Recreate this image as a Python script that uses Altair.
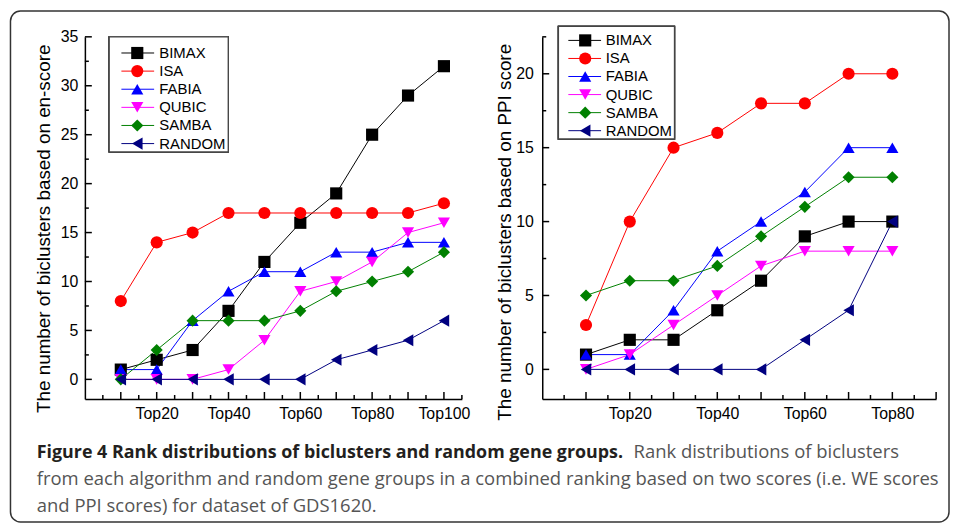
import altair as alt
import pandas as pd

# ---------------- data ----------------
series_names = ["BIMAX", "ISA", "FABIA", "QUBIC", "SAMBA", "RANDOM"]
series_colors = ["#000000", "#ff0000", "#0000ff", "#ff00ff", "#008000", "#000080"]
series_shapes = ["square", "circle", "triangle-up", "triangle-down", "diamond", "triangle-left"]

left_x = [10, 20, 30, 40, 50, 60, 70, 80, 90, 100]
left_bimax = [1, 2, 3, 7, 12, 16, 19, 25, 29, 32]
left_isa = [8, 14, 15, 17, 17, 17, 17, 17, 17, 18]
left_fabia = [1, 1, 6, 9, 11, 11, 13, 13, 14, 14]
left_qubic = [0, 0, 0, 1, 4, 9, 10, 12, 15, 16]
left_samba = [0, 3, 6, 6, 6, 7, 9, 10, 11, 13]
left_random = [0, 0, 0, 0, 0, 0, 2, 3, 4, 6]

right_x = [10, 20, 30, 40, 50, 60, 70, 80]
right_bimax = [1, 2, 2, 4, 6, 9, 10, 10]
right_isa = [3, 10, 15, 16, 18, 18, 20, 20]
right_fabia = [1, 1, 4, 8, 10, 12, 15, 15]
right_qubic = [0, 1, 3, 5, 7, 8, 8, 8]
right_samba = [5, 6, 6, 7, 9, 11, 13, 13]
right_random = [0, 0, 0, 0, 0, 2, 4, 10]

left_xlabels = [20, 40, 60, 80, 100]
right_xlabels = [20, 40, 60, 80]
left_xmajor = [10, 20, 30, 40, 50, 60, 70, 80, 90, 100]
left_xminor = [5, 15, 25, 35, 45, 55, 65, 75, 85, 95, 105]
right_xmajor = [10, 20, 30, 40, 50, 60, 70, 80, 90]
right_xminor = [5, 15, 25, 35, 45, 55, 65, 75, 85]
left_ymajor = [0, 5, 10, 15, 20, 25, 30, 35]
left_yminor = [2.5, 7.5, 12.5, 17.5, 22.5, 27.5, 32.5]
right_ymajor = [0, 5, 10, 15, 20]
right_yminor = [2.5, 7.5, 12.5, 17.5, 22.5]

left_title = "The number of biclusters based on en-score"
right_title = "The number of biclusters based on PPI score"
caption_bold = "Figure 4 Rank distributions of biclusters and random gene groups."
caption_1 = "Rank distributions of biclusters"
caption_2 = "from each algorithm and random gene groups in a combined ranking based on two scores (i.e. WE scores"
caption_3 = "and PPI scores) for dataset of GDS1620."

AXFONT = "Liberation Sans"


def long_table(xs, cols):
    rows = []
    for name, vals in zip(series_names, cols):
        for x, v in zip(xs, vals):
            rows.append({"x": x, "value": v, "series": name})
    return pd.DataFrame(rows)


color_enc = alt.Color("series:N", scale=alt.Scale(domain=series_names, range=series_colors), legend=None)
shape_enc = alt.Shape("series:N", scale=alt.Scale(domain=series_names, range=series_shapes), legend=None)


def panel(df, W, H, xdom, ydom, xlabels, xmajor, xminor, ymajor, yminor, ytitle,
          title_x, title_y, ylabel_pad, leg, extras):
    xenc = alt.X("x:Q", scale=alt.Scale(domain=xdom, nice=False, zero=False),
                 axis=alt.Axis(values=xlabels, labelExpr="'Top' + datum.value", ticks=False, tickSize=0,
                               grid=False, title=None, domainColor="black", domainWidth=1.5,
                               labelFontSize=16, labelColor="black", labelFont=AXFONT, labelPadding=7,
                               labelFlush=False, labelOverlap=False))
    yenc = alt.Y("value:Q", scale=alt.Scale(domain=ydom, nice=False, zero=False),
                 axis=alt.Axis(values=ymajor, ticks=False, tickSize=0, grid=False, title=ytitle,
                               titleX=title_x, titleY=title_y, titleAlign="center", titleBaseline="middle",
                               titleFontSize=19, titleFontWeight="normal", titleFont=AXFONT, titleColor="black",
                               domainColor="black", domainWidth=1.5, labelFontSize=16, labelColor="black",
                               labelFont=AXFONT, labelPadding=ylabel_pad, labelFlush=False, labelOverlap=False))
    base = alt.Chart(df)
    lines = base.mark_line(strokeWidth=1).encode(x=xenc, y=yenc, color=color_enc, detail="series:N")
    points = base.mark_point(filled=True, size=150, opacity=1).encode(x=xenc, y=yenc, color=color_enc, shape=shape_enc)

    def xt(vals, L):
        return alt.Chart(pd.DataFrame({"x": vals})).mark_rule(color="black", strokeWidth=1.5).encode(
            x=xenc, y=alt.value(H), y2=alt.value(H - L))

    def yt(vals, L):
        return alt.Chart(pd.DataFrame({"value": vals})).mark_rule(color="black", strokeWidth=1.5).encode(
            y=yenc, x=alt.value(0), x2=alt.value(L))

    data_layer = alt.layer(lines, points, xt(xmajor, 7), xt(xminor, 4), yt(ymajor, 7), yt(yminor, 4))

    legdf = pd.DataFrame({"series": series_names})
    ly = alt.Y("series:N", sort=series_names,
               scale=alt.Scale(type="point", domain=series_names, range=[leg["y0"], leg["y1"]], padding=0),
               axis=None)
    box = alt.Chart(legdf).mark_rect(fill="white", stroke="#444444", strokeWidth=1.3).encode(
        x=alt.value(leg["bx0"]), x2=alt.value(leg["bx1"]), y=alt.value(leg["by0"]), y2=alt.value(leg["by1"]))
    lrule = alt.Chart(legdf).mark_rule(strokeWidth=1).encode(
        x=alt.value(leg["lx0"]), x2=alt.value(leg["lx1"]), y=ly, color=color_enc)
    lpt = alt.Chart(legdf).mark_point(filled=True, size=150, opacity=1).encode(
        x=alt.value(leg["sx"]), y=ly, color=color_enc, shape=shape_enc)
    ltxt = alt.Chart(legdf).mark_text(align="left", baseline="middle", font=AXFONT, fontSize=15,
                                      color="black").encode(x=alt.value(leg["tx"]), y=ly, text="series:N")
    legend_layer = alt.layer(*extras, box, lrule, lpt, ltxt)

    return alt.layer(data_layer, legend_layer).resolve_scale(y="independent").properties(width=W, height=H)


# frame and caption (drawn relative to left plot origin)
frame_df = pd.DataFrame({"k": [0]})
frame = alt.Chart(frame_df).mark_rect(fill="transparent", stroke="#333333", strokeWidth=1.5, cornerRadius=10).encode(
    x=alt.value(-75), x2=alt.value(871), y=alt.value(-26), y2=alt.value(489))


def cap(txt, x, y, bold):
    return alt.Chart(frame_df).mark_text(align="left", baseline="alphabetic", font="Open Sans",
                                         fontSize=18.0 if bold else 18.6,
                                         fontWeight="bold" if bold else "normal",
                                         color="#231f20" if bold else "#555555").encode(
        x=alt.value(x), y=alt.value(y), text=alt.value(txt))


captions = [cap(caption_bold, -48.5, 424.5, True), cap(caption_1, 553, 424.5, False),
            cap(caption_2, -48.5, 452, False), cap(caption_3, -48.5, 478.5, False)]

left = panel(long_table(left_x, [left_bimax, left_isa, left_fabia, left_qubic, left_samba, left_random]),
             380, 365, [0, 105], [-2, 35], left_xlabels, left_xmajor, left_xminor, left_ymajor, left_yminor,
             left_title, -42, 193, 7,
             dict(y0=16.3, y1=107.6, bx0=24.5, bx1=144.5, by0=0, by1=116, lx0=36.8, lx1=69.8, sx=52.8, tx=75),
             [frame] + captions)

right = panel(long_table(right_x, [right_bimax, right_isa, right_fabia, right_qubic, right_samba, right_random]),
              397, 365, [0, 90], [-2, 22.5], right_xlabels, right_xmajor, right_xminor, right_ymajor,
              right_yminor, right_title, -37.5, 196.5, 9,
              dict(y0=3.6, y1=94.6, bx0=16.3, bx1=133.3, by0=-10.5, by1=103, lx0=26.3, lx1=59.3, sx=43.3, tx=64),
              [])

chart = alt.hconcat(left, right, spacing=81, bounds="flush").properties(
    padding={"left": 1.5, "top": 0, "right": 0, "bottom": 0}
).configure_view(strokeWidth=0)

chart.save("out.html", embed_options={"renderer": "svg", "actions": False})
